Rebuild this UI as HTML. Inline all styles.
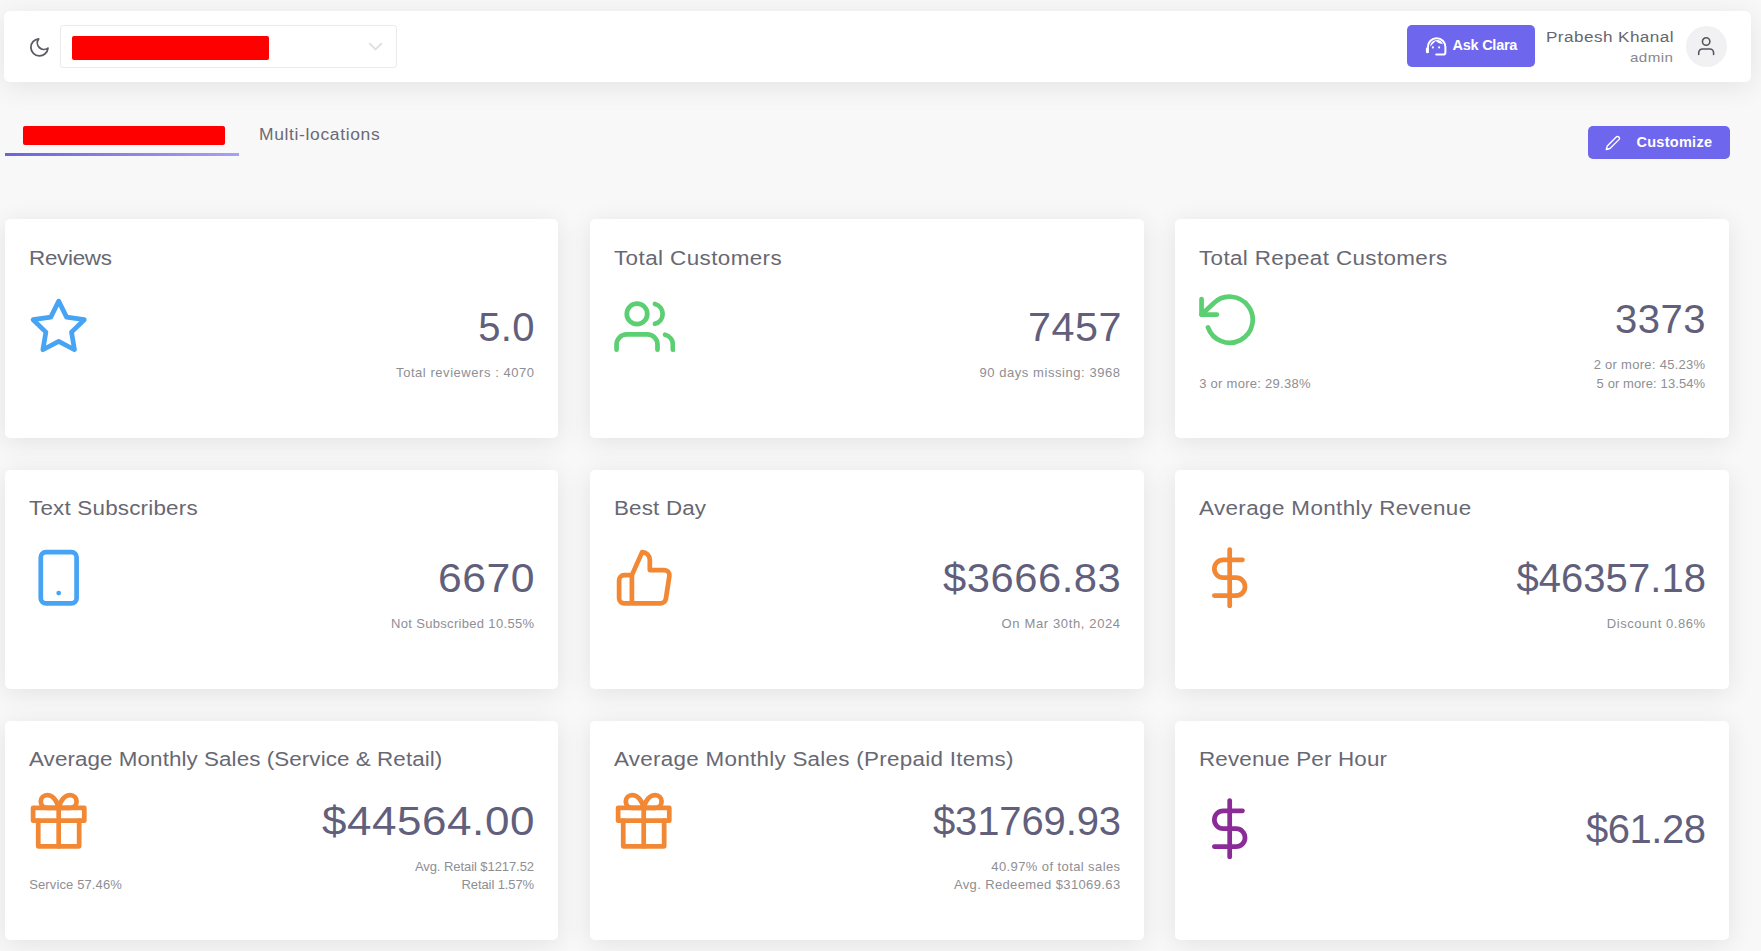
<!DOCTYPE html>
<html><head><meta charset="utf-8"><style>
html,body{margin:0;padding:0;}
body{width:1761px;height:951px;overflow:hidden;position:relative;background:#f8f8f8;font-family:"Liberation Sans",sans-serif;}
.hdr{position:absolute;left:4px;top:11px;width:1747px;height:71px;background:#fff;border-radius:6px;box-shadow:0 5px 28px rgba(0,0,0,0.085);}
.card{position:absolute;background:#fff;border-radius:5px;box-shadow:0 4px 26px rgba(0,0,0,0.09);}
</style></head><body>

<div class="hdr"></div>
<svg style="position:absolute;left:28.35px;top:35.65px" width="22.80" height="22.80" viewBox="0 0 24 24" fill="none" stroke="#5b5b66" stroke-width="1.9" stroke-linecap="round" stroke-linejoin="round"><path d="M21 12.79A9 9 0 1 1 11.21 3 7 7 0 0 0 21 12.79z"/></svg>
<div style="position:absolute;left:59.5px;top:25.25px;width:337px;height:42.6px;box-sizing:border-box;border:1px solid #ebebed;border-radius:3px;background:#fff"></div>
<div style="position:absolute;left:71.75px;top:35.75px;width:197.2px;height:23.75px;background:#fe0000;border-radius:2px"></div>
<svg style="position:absolute;left:364.20px;top:35.30px" width="23.10" height="23.10" viewBox="0 0 24 24" fill="none" stroke="#dfdfe3" stroke-width="2" stroke-linecap="round" stroke-linejoin="round"><polyline points="6 9 12 15 18 9"/></svg>
<div style="position:absolute;left:1407px;top:25.3px;width:128px;height:42.2px;background:#6f66ee;border-radius:5px"></div>
<svg style="position:absolute;left:1420px;top:32px" width="32" height="28" viewBox="0 0 32 28" fill="none" stroke="#fff" stroke-width="2" stroke-linecap="round" stroke-linejoin="round"><path d="M7.9 20 V15 A8.75 8.75 0 0 1 25.4 15 V20.5 Q25.4 22.6 23.3 22.6 H16.2"/><path d="M7.3 16.8 V19.9" stroke-width="2.8"/><path d="M10.3 14.8 A6.5 6.5 0 0 1 22.9 12.3 Q18.2 11.6 15.6 8.9 Q12.8 11.4 10.3 14.8 Z" fill="#fff" stroke="none"/><circle cx="12.9" cy="15.4" r="1.05" fill="#fff" stroke="none"/><circle cx="19.1" cy="15.4" r="1.05" fill="#fff" stroke="none"/></svg>
<div style="position:absolute;white-space:nowrap;font-size:14.5px;line-height:14.5px;color:#ffffff;letter-spacing:-0.250px;top:38.12px;transform-origin:0 0;font-weight:bold;left:1452.50px;">Ask Clara</div>
<div style="position:absolute;white-space:nowrap;font-size:15.3px;line-height:15.3px;color:#66666f;letter-spacing:0.387px;top:28.65px;transform-origin:0 0;transform:scaleX(1.12);left:1545.80px;">Prabesh Khanal</div>
<div style="position:absolute;white-space:nowrap;font-size:13.2px;line-height:13.2px;color:#88888e;letter-spacing:0.348px;top:50.62px;transform-origin:0 0;transform:scaleX(1.15);left:1630.20px;">admin</div>
<div style="position:absolute;left:1686px;top:26.4px;width:40.6px;height:40.4px;border-radius:50%;background:#f1f1f4"></div>
<svg style="position:absolute;left:1694.80px;top:35.20px" width="22.30" height="22.30" viewBox="0 0 24 24" fill="none" stroke="#55555f" stroke-width="1.7" stroke-linecap="round" stroke-linejoin="round"><path d="M20 21v-2a4 4 0 0 0-4-4H8a4 4 0 0 0-4 4v2"/><circle cx="12" cy="7" r="4"/></svg>
<div style="position:absolute;left:22.5px;top:125.75px;width:202px;height:19.25px;background:#fe0000;border-radius:2px"></div>
<div style="position:absolute;left:5px;top:152.75px;width:234.25px;height:3px;background:linear-gradient(90deg,#6c63dc,#a8a0f2)"></div>
<div style="position:absolute;white-space:nowrap;font-size:15.6px;line-height:15.6px;color:#6a6a73;letter-spacing:0.579px;top:126.69px;transform-origin:0 0;transform:scaleX(1.12);left:259.25px;">Multi-locations</div>
<div style="position:absolute;left:1588px;top:126.1px;width:142px;height:32.5px;background:#6f66ee;border-radius:5px"></div>
<svg style="position:absolute;left:1605.00px;top:135.20px" width="15.85" height="15.85" viewBox="0 0 24 24" fill="none" stroke="#fff" stroke-width="2.1" stroke-linecap="round" stroke-linejoin="round"><path d="M17 3a2.828 2.828 0 1 1 4 4L7.5 20.5 2 22l1.5-5.5L17 3z"/></svg>
<div style="position:absolute;white-space:nowrap;font-size:14.5px;line-height:14.5px;color:#ffffff;letter-spacing:0.287px;top:134.82px;transform-origin:0 0;font-weight:bold;left:1636.40px;">Customize</div>

<div class="card" style="left:5px;top:219px;width:553px;height:218.5px"></div>
<div style="position:absolute;white-space:nowrap;font-size:20px;line-height:20px;color:#686873;letter-spacing:-0.249px;top:247.87px;transform-origin:0 0;transform:scaleX(1.12);left:29.20px;">Reviews</div>
<svg style="position:absolute;left:27.80px;top:296.20px" width="61.40" height="61.40" viewBox="0 0 24 24" fill="none" stroke="#47a4f4" stroke-width="1.85" stroke-linecap="round" stroke-linejoin="round"><polygon points="12 2 15.09 8.26 22 9.27 17 14.14 18.18 21.02 12 17.77 5.82 21.02 7 14.14 2 9.27 8.91 8.26 12 2"/></svg>
<div style="position:absolute;white-space:nowrap;font-size:40px;line-height:40px;color:#615f7c;letter-spacing:0.300px;top:307.43px;transform-origin:0 0;left:478.20px;">5.0</div>
<div style="position:absolute;white-space:nowrap;font-size:13px;line-height:13px;color:#8e8e94;letter-spacing:0.548px;top:366.19px;transform-origin:0 0;left:396.10px;">Total reviewers : 4070</div>
<div class="card" style="left:590px;top:219px;width:554px;height:218.5px"></div>
<div style="position:absolute;white-space:nowrap;font-size:20px;line-height:20px;color:#686873;letter-spacing:0.374px;top:247.87px;transform-origin:0 0;transform:scaleX(1.12);left:614.20px;">Total Customers</div>
<svg style="position:absolute;left:614.00px;top:296.20px" width="61.40" height="61.40" viewBox="0 0 24 24" fill="none" stroke="#5ccf73" stroke-width="1.85" stroke-linecap="round" stroke-linejoin="round"><path d="M17 21v-2a4 4 0 0 0-4-4H5a4 4 0 0 0-4 4v2"/><circle cx="9" cy="7" r="4"/><path d="M23 21v-2a4 4 0 0 0-3-3.87"/><path d="M16 3.13a4 4 0 0 1 0 7.75"/></svg>
<div style="position:absolute;white-space:nowrap;font-size:40px;line-height:40px;color:#615f7c;letter-spacing:0.500px;top:307.43px;transform-origin:0 0;transform:scaleX(1.0331491712707181);left:1027.50px;">7457</div>
<div style="position:absolute;white-space:nowrap;font-size:13px;line-height:13px;color:#8e8e94;letter-spacing:0.565px;top:366.19px;transform-origin:0 0;left:979.40px;">90 days missing: 3968</div>
<div class="card" style="left:1175px;top:219px;width:554px;height:218.5px"></div>
<div style="position:absolute;white-space:nowrap;font-size:20px;line-height:20px;color:#686873;letter-spacing:0.338px;top:247.87px;transform-origin:0 0;transform:scaleX(1.12);left:1199.20px;">Total Repeat Customers</div>
<svg style="position:absolute;left:1199.00px;top:288.60px" width="61.40" height="61.40" viewBox="0 0 24 24" fill="none" stroke="#5ccf73" stroke-width="1.85" stroke-linecap="round" stroke-linejoin="round"><polyline points="1 4 1 10 7 10"/><path d="M3.51 15a9 9 0 1 0 2.13-9.36L1 10"/></svg>
<div style="position:absolute;white-space:nowrap;font-size:40px;line-height:40px;color:#615f7c;letter-spacing:0.500px;top:299.33px;transform-origin:0 0;transform:scaleX(1.0011049723756906);left:1615.40px;">3373</div>
<div style="position:absolute;white-space:nowrap;font-size:13px;line-height:13px;color:#8e8e94;letter-spacing:0.281px;top:357.89px;transform-origin:0 0;left:1593.70px;">2 or more: 45.23%</div>
<div style="position:absolute;white-space:nowrap;font-size:13px;line-height:13px;color:#8e8e94;letter-spacing:0.100px;top:376.59px;transform-origin:0 0;left:1596.60px;">5 or more: 13.54%</div>
<div style="position:absolute;white-space:nowrap;font-size:13px;line-height:13px;color:#8e8e94;letter-spacing:0.275px;top:376.59px;transform-origin:0 0;left:1199.20px;">3 or more: 29.38%</div>
<div class="card" style="left:5px;top:469.5px;width:553px;height:219.5px"></div>
<div style="position:absolute;white-space:nowrap;font-size:20px;line-height:20px;color:#686873;letter-spacing:0.182px;top:498.37px;transform-origin:0 0;transform:scaleX(1.12);left:29.20px;">Text Subscribers</div>
<svg style="position:absolute;left:27.80px;top:546.70px" width="61.40" height="61.40" viewBox="0 0 24 24" fill="none" stroke="#47a4f4" stroke-width="1.85" stroke-linecap="round" stroke-linejoin="round"><rect x="5" y="2" width="14" height="20" rx="2" ry="2"/><line x1="12" y1="18" x2="12.01" y2="18"/></svg>
<div style="position:absolute;white-space:nowrap;font-size:40px;line-height:40px;color:#615f7c;letter-spacing:0.500px;top:557.93px;transform-origin:0 0;transform:scaleX(1.0674033149171271);left:437.80px;">6670</div>
<div style="position:absolute;white-space:nowrap;font-size:13px;line-height:13px;color:#8e8e94;letter-spacing:0.325px;top:616.69px;transform-origin:0 0;left:391.00px;">Not Subscribed 10.55%</div>
<div class="card" style="left:590px;top:469.5px;width:554px;height:219.5px"></div>
<div style="position:absolute;white-space:nowrap;font-size:20px;line-height:20px;color:#686873;letter-spacing:0.149px;top:498.37px;transform-origin:0 0;transform:scaleX(1.12);left:614.20px;">Best Day</div>
<svg style="position:absolute;left:613.60px;top:546.70px" width="61.40" height="61.40" viewBox="0 0 24 24" fill="none" stroke="#f28834" stroke-width="1.85" stroke-linecap="round" stroke-linejoin="round"><path d="M14 9V5a3 3 0 0 0-3-3l-4 9v11h11.28a2 2 0 0 0 2-1.7l1.38-9a2 2 0 0 0-2-2.3zM7 22H4a2 2 0 0 1-2-2v-7a2 2 0 0 1 2-2h3"/></svg>
<div style="position:absolute;white-space:nowrap;font-size:40px;line-height:40px;color:#615f7c;letter-spacing:0.500px;top:557.93px;transform-origin:0 0;transform:scaleX(1.0434527304756311);left:943.30px;">$3666.83</div>
<div style="position:absolute;white-space:nowrap;font-size:13px;line-height:13px;color:#8e8e94;letter-spacing:0.631px;top:616.69px;transform-origin:0 0;left:1001.60px;">On Mar 30th, 2024</div>
<div class="card" style="left:1175px;top:469.5px;width:554px;height:219.5px"></div>
<div style="position:absolute;white-space:nowrap;font-size:20px;line-height:20px;color:#686873;letter-spacing:0.348px;top:498.37px;transform-origin:0 0;transform:scaleX(1.12);left:1199.20px;">Average Monthly Revenue</div>
<svg style="position:absolute;left:1199.00px;top:546.70px" width="61.40" height="61.40" viewBox="0 0 24 24" fill="none" stroke="#f28834" stroke-width="1.85" stroke-linecap="round" stroke-linejoin="round"><line x1="12" y1="1" x2="12" y2="23"/><path d="M17 5H9.5a3.5 3.5 0 0 0 0 7h5a3.5 3.5 0 0 1 0 7H6"/></svg>
<div style="position:absolute;white-space:nowrap;font-size:40px;line-height:40px;color:#615f7c;letter-spacing:0.062px;top:557.93px;transform-origin:0 0;left:1516.40px;">$46357.18</div>
<div style="position:absolute;white-space:nowrap;font-size:13px;line-height:13px;color:#8e8e94;letter-spacing:0.554px;top:616.69px;transform-origin:0 0;left:1606.80px;">Discount 0.86%</div>
<div class="card" style="left:5px;top:720.75px;width:553px;height:219.0px"></div>
<div style="position:absolute;white-space:nowrap;font-size:20px;line-height:20px;color:#686873;letter-spacing:0.065px;top:748.87px;transform-origin:0 0;transform:scaleX(1.12);left:29.20px;">Average Monthly Sales (Service &amp; Retail)</div>
<svg style="position:absolute;left:27.80px;top:789.60px" width="61.40" height="61.40" viewBox="0 0 24 24" fill="none" stroke="#f28834" stroke-width="1.85" stroke-linecap="round" stroke-linejoin="round"><polyline points="20 12 20 22 4 22 4 12"/><rect x="2" y="7" width="20" height="5"/><line x1="12" y1="22" x2="12" y2="7"/><path d="M12 7H7.5a2.5 2.5 0 0 1 0-5C11 2 12 7 12 7z"/><path d="M12 7h4.5a2.5 2.5 0 0 0 0-5C13 2 12 7 12 7z"/></svg>
<div style="position:absolute;white-space:nowrap;font-size:40px;line-height:40px;color:#615f7c;letter-spacing:0.500px;top:801.23px;transform-origin:0 0;transform:scaleX(1.0999482133609528);left:322.00px;">$44564.00</div>
<div style="position:absolute;white-space:nowrap;font-size:13px;line-height:13px;color:#8e8e94;letter-spacing:-0.068px;top:859.64px;transform-origin:0 0;left:414.90px;">Avg. Retail $1217.52</div>
<div style="position:absolute;white-space:nowrap;font-size:13px;line-height:13px;color:#8e8e94;letter-spacing:-0.109px;top:878.34px;transform-origin:0 0;left:461.60px;">Retail 1.57%</div>
<div style="position:absolute;white-space:nowrap;font-size:13px;line-height:13px;color:#8e8e94;letter-spacing:0.123px;top:878.34px;transform-origin:0 0;left:29.20px;">Service 57.46%</div>
<div class="card" style="left:590px;top:720.75px;width:554px;height:219.0px"></div>
<div style="position:absolute;white-space:nowrap;font-size:20px;line-height:20px;color:#686873;letter-spacing:0.250px;top:748.87px;transform-origin:0 0;transform:scaleX(1.12);left:614.20px;">Average Monthly Sales (Prepaid Items)</div>
<svg style="position:absolute;left:612.80px;top:789.60px" width="61.40" height="61.40" viewBox="0 0 24 24" fill="none" stroke="#f28834" stroke-width="1.85" stroke-linecap="round" stroke-linejoin="round"><polyline points="20 12 20 22 4 22 4 12"/><rect x="2" y="7" width="20" height="5"/><line x1="12" y1="22" x2="12" y2="7"/><path d="M12 7H7.5a2.5 2.5 0 0 1 0-5C11 2 12 7 12 7z"/><path d="M12 7h4.5a2.5 2.5 0 0 0 0-5C13 2 12 7 12 7z"/></svg>
<div style="position:absolute;white-space:nowrap;font-size:40px;line-height:40px;color:#615f7c;letter-spacing:-0.137px;top:801.23px;transform-origin:0 0;left:933.00px;">$31769.93</div>
<div style="position:absolute;white-space:nowrap;font-size:13px;line-height:13px;color:#8e8e94;letter-spacing:0.405px;top:859.64px;transform-origin:0 0;left:991.30px;">40.97% of total sales</div>
<div style="position:absolute;white-space:nowrap;font-size:13px;line-height:13px;color:#8e8e94;letter-spacing:0.373px;top:878.34px;transform-origin:0 0;left:953.90px;">Avg. Redeemed $31069.63</div>
<div class="card" style="left:1175px;top:720.75px;width:554px;height:219.0px"></div>
<div style="position:absolute;white-space:nowrap;font-size:20px;line-height:20px;color:#686873;letter-spacing:0.150px;top:748.87px;transform-origin:0 0;transform:scaleX(1.12);left:1199.20px;">Revenue Per Hour</div>
<svg style="position:absolute;left:1199.00px;top:798.10px" width="61.40" height="61.40" viewBox="0 0 24 24" fill="none" stroke="#8b2b97" stroke-width="1.85" stroke-linecap="round" stroke-linejoin="round"><line x1="12" y1="1" x2="12" y2="23"/><path d="M17 5H9.5a3.5 3.5 0 0 0 0 7h5a3.5 3.5 0 0 1 0 7H6"/></svg>
<div style="position:absolute;white-space:nowrap;font-size:40px;line-height:40px;color:#615f7c;letter-spacing:-0.460px;top:809.33px;transform-origin:0 0;left:1586.00px;">$61.28</div>
</body></html>
